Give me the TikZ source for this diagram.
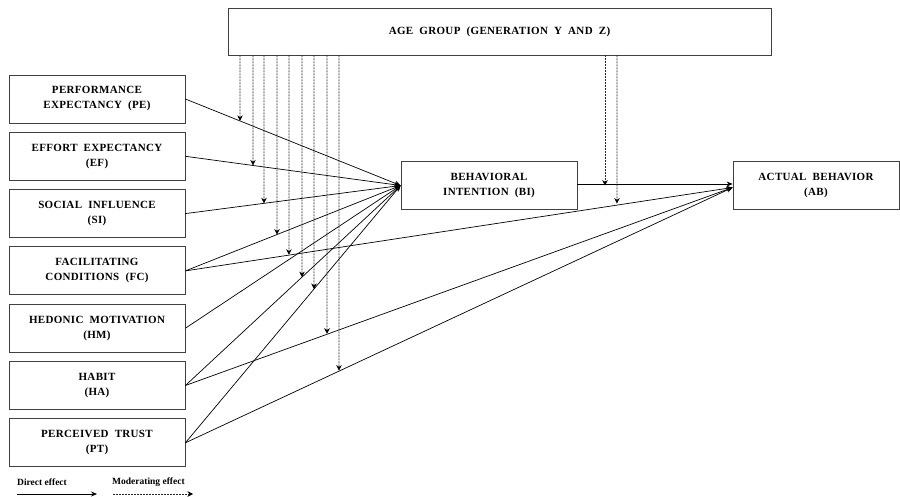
\documentclass[tikz,border=0pt]{standalone}
\usepackage{fontspec}
\setmainfont{Liberation Serif}
\newfontfamily\boxfont[LetterSpace=3]{Liberation Serif}
\usetikzlibrary{positioning}
\usetikzlibrary{arrows.meta}
\tikzstyle{constnode} = [draw=black!75, rectangle, line width=0.8pt, minimum width=176pt, minimum height=48pt, align=center, font=\boxfont\bfseries\fontsize{11}{15}\selectfont]
\tikzstyle{direct} = [line width=0.7pt, -{Stealth[length=6pt,width=5pt]}]
\tikzstyle{moderate} = [black!85, line width=0.6pt, dash pattern=on 2pt off 1pt, -{Stealth[length=5.5pt,width=5.5pt,black]}]
\tikzstyle{legendtext} = [anchor=west, inner sep=0pt, font=\bfseries\fontsize{9.5}{11}\selectfont]

\begin{document}
\begin{tikzpicture}[x=1pt, y=-1pt]
  \useasboundingbox (0,0) rectangle (900,497);

  \node[constnode, minimum width=543pt, minimum height=47pt] (age) at (499.5,31.5) {AGE~~GROUP~~(GENERATION~~Y~~AND~~Z)};
  \node[constnode] (pe) at (97,99) {PERFORMANCE\\EXPECTANCY~~(PE)};
  \node[constnode, below=8.5pt of pe] (ef) {EFFORT~~EXPECTANCY\\(EF)};
  \node[constnode, below=8.5pt of ef] (si) {SOCIAL~~INFLUENCE\\(SI)};
  \node[constnode, below=8.5pt of si] (fc) {FACILITATING\\CONDITIONS~~(FC)};
  \node[constnode, below=8.5pt of fc] (hm) {HEDONIC~~MOTIVATION\\(HM)};
  \node[constnode, below=8.5pt of hm] (ha) {HABIT\\(HA)};
  \node[constnode, below=8.5pt of ha] (pt) {PERCEIVED~~TRUST\\(PT)};
  \node[constnode] (bi) at (489,185.5) {BEHAVIORAL\\INTENTION~~(BI)};
  \node[constnode, minimum width=166pt] (ab) at (816,185.5) {ACTUAL~~BEHAVIOR\\(AB)};

  % direct effects
  \foreach \src in {pe,ef,si,fc,hm,ha,pt}
    \draw[direct] (\src.east) -- (bi.west);
  \foreach \src in {fc,ha,pt}
    \draw[direct] (\src.east) -- ([yshift=-2pt]ab.west);
  \draw[direct] ([yshift=1.5pt]bi.east) -- ([yshift=1.5pt]ab.west);

  % moderating effects
  \foreach \mx/\src/\dst in {240/pe/bi, 253/ef/bi, 264/si/bi, 277/fc/bi, 289/fc/ab, 302/ha/bi, 314/pt/bi, 327/ha/ab, 339/pt/ab, 605/bi/ab, 617/fc/ab}
    \draw[moderate] (age.south -| \mx,0) -- (intersection of \mx,0--\mx,500 and \src.east--\dst.west);

  % legend
  \node[legendtext] (directlbl) at (17,482) {Direct effect};
  \node[legendtext] (modlbl) at (112,482) {Moderating effect};
  \coordinate (d1) at (17,494);
  \coordinate (d2) at (97,494);
  \coordinate (m1) at (113,494);
  \coordinate (m2) at (193,494);
  \draw[direct] (d1) -- (d2);
  \draw[moderate] (m1) -- (m2);
\end{tikzpicture}
\end{document}
